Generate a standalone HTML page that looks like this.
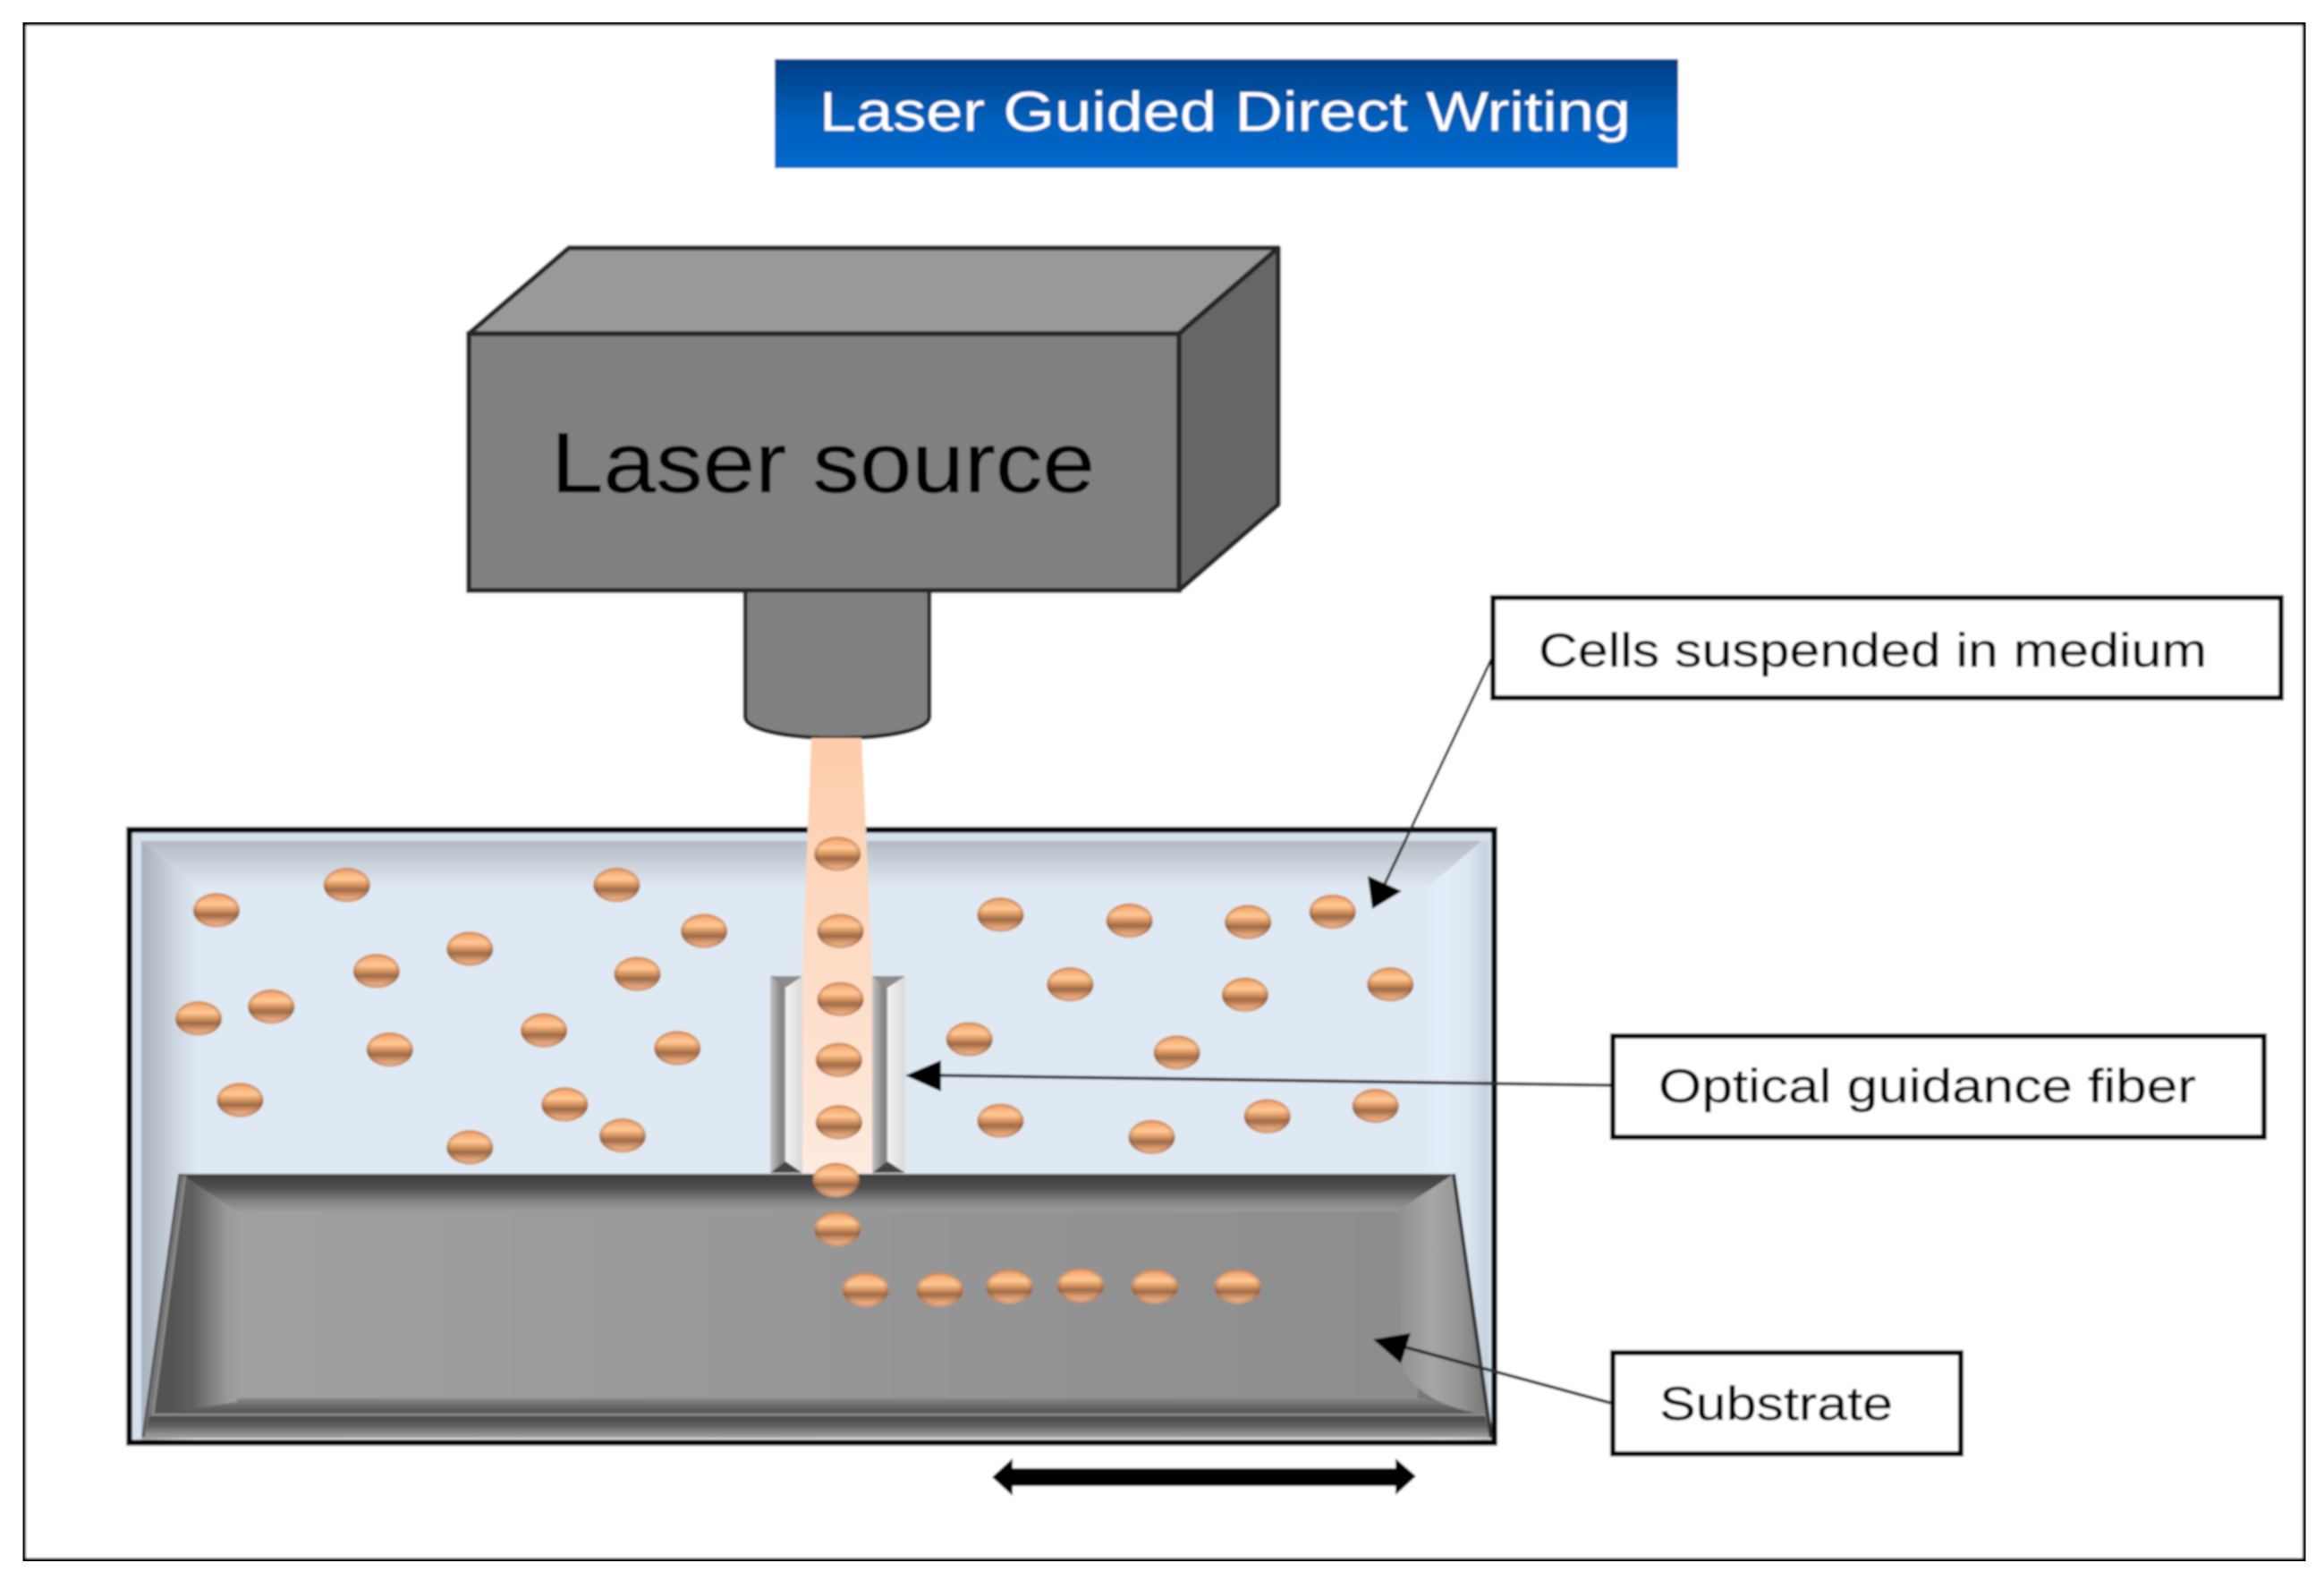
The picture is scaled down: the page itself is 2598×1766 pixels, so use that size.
<!DOCTYPE html>
<html>
<head>
<meta charset="utf-8">
<title>Laser Guided Direct Writing</title>
<style>
html,body{margin:0;padding:0;background:#fff;width:2598px;height:1766px;overflow:hidden}
svg{display:block}
text{font-family:"Liberation Sans",sans-serif}
</style>
</head>
<body>
<svg xmlns="http://www.w3.org/2000/svg" width="2598" height="1766" viewBox="0 0 2598 1766">
<defs>
<linearGradient id="title" x1="0" y1="0" x2="0" y2="1"><stop offset="0" stop-color="#003e83"/><stop offset=".6" stop-color="#0062bf"/><stop offset="1" stop-color="#0068cc"/></linearGradient>
<linearGradient id="beam" gradientUnits="userSpaceOnUse" x1="0" y1="825" x2="0" y2="1311"><stop offset="0" stop-color="#fdcdab"/><stop offset="1" stop-color="#fdeadf"/></linearGradient>
<linearGradient id="tTop" gradientUnits="userSpaceOnUse" x1="0" y1="940" x2="0" y2="992"><stop offset="0" stop-color="#b2b9c2"/><stop offset=".55" stop-color="#ccd4dd"/><stop offset="1" stop-color="#dfe9f3"/></linearGradient>
<linearGradient id="tLeft" gradientUnits="userSpaceOnUse" x1="158" y1="0" x2="222" y2="0"><stop offset="0" stop-color="#a7b1bc"/><stop offset=".6" stop-color="#cdd6e0"/><stop offset="1" stop-color="#dfe9f3"/></linearGradient>
<linearGradient id="tRight" gradientUnits="userSpaceOnUse" x1="1590" y1="0" x2="1664" y2="0"><stop offset="0" stop-color="#dfe9f3"/><stop offset=".3" stop-color="#e3edf9"/><stop offset=".7" stop-color="#dce6f1"/><stop offset="1" stop-color="#c2cedb"/></linearGradient>
<linearGradient id="sTop" gradientUnits="userSpaceOnUse" x1="0" y1="1314" x2="0" y2="1354"><stop offset="0" stop-color="#3f3f3f"/><stop offset=".35" stop-color="#505050"/><stop offset=".7" stop-color="#808080"/><stop offset="1" stop-color="#9c9c9c"/></linearGradient>
<linearGradient id="sLeft" gradientUnits="userSpaceOnUse" x1="190" y1="0" x2="268" y2="0"><stop offset="0" stop-color="#525252"/><stop offset=".35" stop-color="#626262"/><stop offset=".8" stop-color="#989898"/><stop offset="1" stop-color="#a0a0a0"/></linearGradient>
<linearGradient id="sRight" gradientUnits="userSpaceOnUse" x1="1558" y1="0" x2="1655" y2="0"><stop offset="0" stop-color="#8d8d8d"/><stop offset=".45" stop-color="#a6a6a6"/><stop offset=".75" stop-color="#969696"/><stop offset="1" stop-color="#7e7e7e"/></linearGradient>
<linearGradient id="sMid" gradientUnits="userSpaceOnUse" x1="265" y1="0" x2="1561" y2="0"><stop offset="0" stop-color="#a0a0a0"/><stop offset=".5" stop-color="#979797"/><stop offset="1" stop-color="#8d8d8d"/></linearGradient>
<linearGradient id="sBot" gradientUnits="userSpaceOnUse" x1="0" y1="1558" x2="0" y2="1580"><stop offset="0" stop-color="#979797"/><stop offset="1" stop-color="#4f4f4f"/></linearGradient>
<linearGradient id="sBotR" gradientUnits="userSpaceOnUse" x1="0" y1="1553" x2="0" y2="1580"><stop offset="0" stop-color="#8d8d8d"/><stop offset="1" stop-color="#4f4f4f"/></linearGradient>
<linearGradient id="sLow" gradientUnits="userSpaceOnUse" x1="0" y1="1583" x2="0" y2="1607"><stop offset="0" stop-color="#434343"/><stop offset=".5" stop-color="#6a6666"/><stop offset="1" stop-color="#aaa3a3"/></linearGradient>
<linearGradient id="fDark" x1="0" y1="0" x2="1" y2="0"><stop offset="0" stop-color="#c4c4c4"/><stop offset=".75" stop-color="#828282"/><stop offset="1" stop-color="#909090"/></linearGradient>
<linearGradient id="fLight" x1="0" y1="0" x2="1" y2="0"><stop offset="0" stop-color="#f2f2f2"/><stop offset="1" stop-color="#d8d8d8"/></linearGradient>
<linearGradient id="cell" x1="0" y1="0" x2="0" y2="1"><stop offset="0" stop-color="#ee9f66"/><stop offset=".14" stop-color="#f7ae78"/><stop offset=".33" stop-color="#ffc996"/><stop offset=".5" stop-color="#d8945f"/><stop offset=".64" stop-color="#9c6b49"/><stop offset=".82" stop-color="#dc9c70"/><stop offset="1" stop-color="#fac09a"/></linearGradient>
<radialGradient id="cellEdge" cx=".5" cy=".5" r=".5"><stop offset=".78" stop-color="#7a4a2c" stop-opacity="0"/><stop offset="1" stop-color="#7a4a2c" stop-opacity=".35"/></radialGradient>
<g id="c"><ellipse rx="15.7" ry="11.6" fill="url(#cell)"/><ellipse rx="15.7" ry="11.6" fill="url(#cellEdge)"/></g>
<filter id="soft" x="0" y="0" width="100%" height="100%"><feGaussianBlur stdDeviation="1"/></filter>
</defs>

<rect width="2598" height="1766" fill="#fff"/>
<g filter="url(#soft)">
<!-- frame -->
<rect x="25.5" y="25" width="2552" height="1720" fill="#fff" stroke="#000" stroke-width="7"/>

<!-- title -->
<rect x="866" y="66" width="1010" height="122" fill="url(#title)"/>
<text x="916" y="146" font-size="62" fill="#fff" textLength="907" lengthAdjust="spacingAndGlyphs">Laser Guided Direct Writing</text>

<!-- laser box -->
<polygon points="524,373 636,277 1429,277 1318,373" fill="#999" stroke="#262626" stroke-width="5.5" stroke-linejoin="round"/>
<polygon points="1318,373 1429,277 1429,564 1318,660" fill="#666" stroke="#262626" stroke-width="5.5" stroke-linejoin="round"/>
<rect x="524" y="373" width="794" height="287" fill="#808080" stroke="#262626" stroke-width="5.5"/>
<text x="616" y="550" font-size="96" fill="#000" stroke="#000" stroke-width="0.6" textLength="608" lengthAdjust="spacingAndGlyphs">Laser source</text>

<!-- objective -->
<path d="M833,660 L833,801 C833,816 880,825 936,825 C992,825 1039,816 1039,801 L1039,660 Z" fill="#808080" stroke="#262626" stroke-width="4.5"/>

<!-- tank -->
<rect x="145" y="928" width="1526" height="685" fill="#d6e1ed"/>
<rect x="220" y="990" width="1378" height="620" fill="#dfe9f3"/>
<polygon points="158,940 1656,940 1595,995 220,995" fill="url(#tTop)"/>
<polygon points="158,940 222,995 222,1612 158,1612" fill="url(#tLeft)"/>
<polygon points="1656,940 1592,995 1592,1610 1664,1610 1664,940" fill="url(#tRight)"/>
<rect x="144.5" y="927.5" width="1526" height="685" fill="none" stroke="#000" stroke-width="6.5"/>

<!-- beam -->
<polygon points="907,825 963,825 968,926 975,1089 975,1311 897,1311 897,1089 903,926" fill="url(#beam)"/>

<!-- fiber -->
<rect x="861" y="1091" width="17" height="220" fill="url(#fDark)"/>
<rect x="878" y="1091" width="19" height="220" fill="url(#fLight)"/>
<polygon points="861,1091 897,1091 878,1104" fill="#8b8b8b"/>
<rect x="975" y="1091" width="17" height="220" fill="url(#fDark)"/>
<rect x="992" y="1091" width="20" height="220" fill="url(#fLight)"/>
<polygon points="975,1091 1012,1091 992,1104" fill="#8b8b8b"/>
<polygon points="861,1311 897,1311 878,1298" fill="#454545"/>
<polygon points="975,1311 1012,1311 992,1298" fill="#454545"/>

<!-- substrate -->
<polygon points="201,1312 1624,1312 1667,1607 159,1607" fill="#777"/>
<rect x="265" y="1353" width="1320" height="228" fill="url(#sMid)"/>
<polygon points="172,1581 265,1563 1590,1563 1659,1581" fill="url(#sBot)"/>
<polygon points="201,1313 1624,1313 1561,1354 265,1354" fill="url(#sTop)"/>
<polygon points="205,1314 265,1354 265,1567 172,1581" fill="url(#sLeft)"/>
<path d="M1624,1313 L1561,1354 L1568,1530 Q1590,1570 1659,1581 Z" fill="url(#sRight)"/>
<polygon points="161,1606 167,1583 1660,1583 1667,1607" fill="url(#sLow)"/>
<line x1="170" y1="1581" x2="1660" y2="1581" stroke="#8c8c8c" stroke-width="2.5"/>
<line x1="207" y1="1314" x2="171" y2="1581" stroke="#8c8c8c" stroke-width="2.5"/>
<line x1="201" y1="1312" x2="160" y2="1606" stroke="#555" stroke-width="3"/>
<line x1="1625" y1="1312" x2="1667" y2="1607" stroke="#333" stroke-width="4"/>

<!-- cells -->
<g transform="scale(1.657)">
<use href="#c" x="146" y="614"/><use href="#c" x="234" y="597"/><use href="#c" x="416" y="597"/><use href="#c" x="475" y="628"/>
<use href="#c" x="317" y="640"/><use href="#c" x="254" y="655"/><use href="#c" x="430" y="657"/><use href="#c" x="134" y="687"/>
<use href="#c" x="183" y="679"/><use href="#c" x="367" y="695"/><use href="#c" x="263" y="708"/><use href="#c" x="457" y="707"/>
<use href="#c" x="162" y="742"/><use href="#c" x="381" y="745"/><use href="#c" x="420" y="766"/><use href="#c" x="317" y="774"/>
<use href="#c" x="565" y="576"/><use href="#c" x="567" y="628"/><use href="#c" x="567" y="674"/><use href="#c" x="566" y="715"/>
<use href="#c" x="566" y="757"/><use href="#c" x="564" y="796"/><use href="#c" x="565" y="829"/>
<use href="#c" x="584" y="870"/><use href="#c" x="634" y="870"/><use href="#c" x="681" y="868"/><use href="#c" x="729" y="867"/>
<use href="#c" x="779" y="868"/><use href="#c" x="835" y="868"/>
<use href="#c" x="675" y="617"/><use href="#c" x="762" y="621"/><use href="#c" x="842" y="622"/><use href="#c" x="899" y="615"/>
<use href="#c" x="722" y="664"/><use href="#c" x="840" y="671"/><use href="#c" x="938" y="664"/><use href="#c" x="654" y="701"/>
<use href="#c" x="794" y="710"/><use href="#c" x="675" y="756"/><use href="#c" x="777" y="767"/><use href="#c" x="855" y="753"/>
<use href="#c" x="928" y="746"/>
</g>

<!-- arrows -->
<line x1="1669" y1="733" x2="1548" y2="988" stroke="#1a1a1a" stroke-width="3"/>
<polygon points="1534,1016 1529,979 1567,996" fill="#000"/>
<line x1="1802" y1="1213" x2="1050" y2="1202" stroke="#2a2a2a" stroke-width="3.5"/>
<polygon points="1012,1202 1052,1185 1052,1220" fill="#000"/>
<line x1="1800" y1="1568" x2="1568" y2="1505" stroke="#2a2a2a" stroke-width="3.5"/>
<polygon points="1535,1497 1577,1490 1566,1524" fill="#000"/>
<polygon points="1109,1651 1132,1630 1132,1641 1560,1641 1560,1630 1583,1650 1560,1671 1560,1661 1132,1661 1132,1672" fill="#000"/>

<!-- labels -->
<rect x="1669" y="668" width="881" height="112" fill="#fff" stroke="#000" stroke-width="6"/>
<text x="1720" y="745" font-size="53" fill="#000" stroke="#000" stroke-width="0.4" textLength="747" lengthAdjust="spacingAndGlyphs">Cells suspended in medium</text>
<rect x="1803" y="1158" width="728" height="113" fill="#fff" stroke="#000" stroke-width="6"/>
<text x="1854" y="1232" font-size="53" fill="#000" stroke="#000" stroke-width="0.4" textLength="601" lengthAdjust="spacingAndGlyphs">Optical guidance fiber</text>
<rect x="1803" y="1512" width="389" height="113" fill="#fff" stroke="#000" stroke-width="6"/>
<text x="1855" y="1587" font-size="53" fill="#000" stroke="#000" stroke-width="0.4" textLength="261" lengthAdjust="spacingAndGlyphs">Substrate</text>
</g>
</svg>
</body>
</html>
